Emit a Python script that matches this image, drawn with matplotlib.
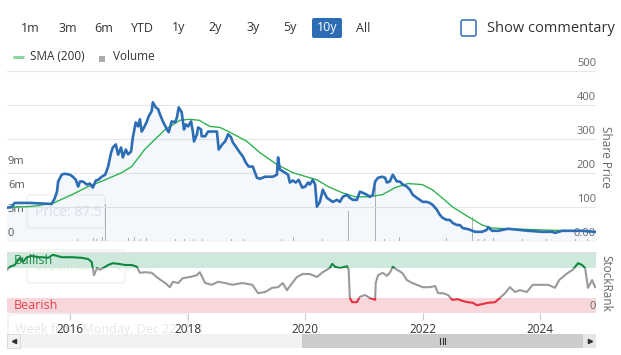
import numpy as np
import matplotlib.pyplot as plt
from matplotlib.patches import Rectangle, FancyBboxPatch
from matplotlib.transforms import offset_copy

plt.rcParams['font.family'] = ['Open Sans', 'DejaVu Sans']

# ---- data (decimal years) ----
price_t = [2014.93, 2015.01, 2015.06, 2015.32, 2015.57, 2015.69, 2015.74, 2015.78, 2015.80, 2015.86,
           2015.91, 2016.00, 2016.05, 2016.10, 2016.14, 2016.17, 2016.22, 2016.29, 2016.34, 2016.39,
           2016.44, 2016.48, 2016.54, 2016.60, 2016.65, 2016.70, 2016.73, 2016.78, 2016.82, 2016.87,
           2016.90, 2016.95, 2016.99, 2017.04, 2017.07, 2017.12, 2017.16, 2017.19, 2017.22, 2017.26,
           2017.31, 2017.34, 2017.39, 2017.41, 2017.46, 2017.50, 2017.53, 2017.58, 2017.65, 2017.68,
           2017.73, 2017.79, 2017.82, 2017.85, 2017.90, 2017.94, 2017.97, 2018.01, 2018.06, 2018.09,
           2018.11, 2018.16, 2018.18, 2018.23, 2018.24, 2018.30, 2018.35, 2018.43, 2018.50, 2018.53,
           2018.59, 2018.64, 2018.69, 2018.74, 2018.77, 2018.82, 2018.89, 2018.94, 2018.99, 2019.04,
           2019.11, 2019.18, 2019.23, 2019.32, 2019.45, 2019.52, 2019.54, 2019.57, 2019.66, 2019.71,
           2019.74, 2019.79, 2019.84, 2019.89, 2019.95, 2020.00, 2020.05, 2020.08, 2020.13, 2020.17,
           2020.20, 2020.25, 2020.30, 2020.37, 2020.42, 2020.47, 2020.54, 2020.59, 2020.64, 2020.71,
           2020.76, 2020.81, 2020.88, 2020.93, 2020.98, 2021.05, 2021.10, 2021.15, 2021.19, 2021.24,
           2021.31, 2021.36, 2021.39, 2021.44, 2021.49, 2021.56, 2021.61, 2021.66, 2021.73, 2021.78,
           2021.83, 2021.90, 2021.95, 2022.00, 2022.07, 2022.12, 2022.17, 2022.24, 2022.29, 2022.34,
           2022.41, 2022.46, 2022.51, 2022.58, 2022.63, 2022.68, 2022.77, 2022.89, 2023.01, 2023.09,
           2023.11, 2023.18, 2023.28, 2023.45, 2023.62, 2023.79, 2024.03, 2024.20, 2024.25, 2024.37,
           2024.54, 2024.71, 2024.93]
price = [98, 100, 112, 112, 110, 109, 125, 145, 175, 195,
         198, 195, 189, 180, 160, 175, 175, 166, 169, 157,
         178, 180, 189, 195, 219, 260, 275, 284, 254, 275,
         246, 269, 255, 263, 305, 349, 337, 358, 322, 334,
         352, 367, 382, 408, 393, 388, 373, 352, 328, 320,
         352, 349, 364, 393, 379, 328, 343, 337, 352, 322,
         293, 314, 334, 328, 308, 308, 322, 322, 322, 269,
         284, 293, 314, 305, 290, 278, 260, 249, 231, 219,
         219, 186, 183, 189, 189, 195, 246, 210, 201, 195,
         172, 178, 172, 180, 157, 160, 172, 166, 180, 166,
         101, 115, 151, 127, 121, 115, 121, 115, 130, 136,
         127, 121, 121, 145, 142, 136, 130, 135, 175, 186,
         189, 186, 172, 175, 195, 175, 175, 166, 160, 151,
         136, 127, 121, 115, 115, 112, 106, 92, 77, 68,
         62, 62, 53, 47, 47, 38, 35, 27, 27, 33,
         41, 30, 30, 36, 33, 30, 27, 27, 24, 30,
         30, 30, 27]

sma_t = [2014.93, 2015.37, 2015.71, 2016.03, 2016.31, 2016.60, 2016.88, 2017.05, 2017.27, 2017.50,
         2017.62, 2017.87, 2018.03, 2018.20, 2018.38, 2018.55, 2018.72, 2019.01, 2019.23, 2019.52,
         2019.79, 2020.08, 2020.20, 2020.39, 2020.63, 2020.85, 2021.07, 2021.31, 2021.53, 2021.75,
         2021.99, 2022.16, 2022.33, 2022.50, 2022.72, 2023.01, 2023.18, 2023.45, 2023.96, 2024.54,
         2024.93]
sma = [98, 102, 111, 136, 160, 180, 201, 219, 269, 308,
       328, 355, 358, 355, 337, 334, 320, 293, 260, 225,
       201, 186, 180, 160, 142, 130, 130, 136, 157, 169,
       166, 151, 127, 101, 77, 47, 38, 36, 33, 30,
       27]

vol_t = [2016.13, 2016.40, 2016.45, 2016.55, 2016.61, 2016.70, 2016.75, 2016.80, 2016.90, 2017.00,
         2017.10, 2017.20, 2017.30, 2017.45, 2017.55, 2017.65, 2017.80, 2017.95, 2018.10, 2018.25,
         2018.45, 2018.75, 2018.95, 2019.20, 2019.40, 2019.60, 2019.80, 2019.95, 2020.30, 2020.54,
         2020.74, 2020.76, 2020.95, 2021.05, 2021.20, 2021.35, 2021.60, 2021.82, 2021.92, 2022.24,
         2022.29, 2022.40, 2022.55, 2022.70, 2022.85, 2022.95, 2023.05, 2023.20, 2023.40, 2023.70,
         2024.10, 2024.25, 2024.40, 2024.60, 2024.80]
vol_m = [0.2, 0.4, 0.2, 0.5, 4.6, 0.3, 0.6, 0.3, 0.4, 0.4,
         0.5, 0.3, 0.4, 0.6, 0.3, 0.4, 0.3, 0.3, 0.3, 0.2,
         0.2, 0.3, 0.2, 1.9, 0.4, 0.3, 0.5, 0.3, 0.3, 3.5,
         3.7, 2.2, 0.2, 0.4, 6.7, 0.3, 0.5, 1.0, 1.0, 1.7,
         1.3, 0.4, 0.4, 0.6, 3.0, 0.3, 0.2, 0.4, 0.2, 0.3,
         0.2, 3.2, 0.3, 0.2, 0.3]

rank_t = [2014.93, 2014.98, 2015.06, 2015.15, 2015.20, 2015.27, 2015.35, 2015.46, 2015.52, 2015.63,
          2015.71, 2015.86, 2016.03, 2016.20, 2016.31, 2016.37, 2016.41, 2016.46, 2016.51, 2016.60,
          2016.65, 2016.73, 2016.82, 2016.94, 2017.05, 2017.14, 2017.19, 2017.28, 2017.39, 2017.50,
          2017.62, 2017.70, 2017.75, 2017.84, 2017.92, 2018.04, 2018.16, 2018.21, 2018.30, 2018.41,
          2018.52, 2018.64, 2018.76, 2018.93, 2019.10, 2019.20, 2019.32, 2019.44, 2019.54, 2019.62,
          2019.69, 2019.78, 2019.86, 2019.96, 2020.08, 2020.20, 2020.30, 2020.42, 2020.46, 2020.51,
          2020.59, 2020.68, 2020.71, 2020.74, 2020.76, 2020.80, 2020.88, 2020.93, 2021.02, 2021.10,
          2021.19, 2021.20, 2021.24, 2021.32, 2021.39, 2021.44, 2021.49, 2021.56, 2021.65, 2021.73,
          2021.82, 2021.90, 2022.00, 2022.12, 2022.21, 2022.26, 2022.34, 2022.43, 2022.50, 2022.60,
          2022.68, 2022.77, 2022.85, 2022.92, 2023.02, 2023.11, 2023.23, 2023.31, 2023.40, 2023.48,
          2023.57, 2023.65, 2023.77, 2023.87, 2023.99, 2024.13, 2024.25, 2024.32, 2024.38, 2024.47,
          2024.55, 2024.64, 2024.71, 2024.76, 2024.81, 2024.88, 2024.93]
rank = [72, 77, 80, 92, 85, 93, 95, 93, 93, 92,
        97, 93, 93, 92, 90, 85, 63, 75, 72, 77,
        80, 83, 82, 80, 80, 77, 67, 68, 67, 58,
        50, 43, 52, 50, 58, 60, 63, 68, 50, 47,
        52, 50, 47, 50, 47, 33, 35, 42, 43, 50,
        38, 50, 60, 65, 65, 60, 68, 75, 82, 77,
        75, 77, 78, 72, 25, 18, 18, 27, 30, 25,
        22, 50, 63, 67, 62, 67, 77, 72, 67, 55,
        50, 47, 43, 43, 45, 33, 33, 30, 22, 23,
        20, 18, 17, 13, 15, 17, 18, 25, 33, 43,
        35, 38, 35, 47, 47, 47, 42, 55, 60, 67,
        72, 83, 80, 75, 42, 55, 43]

years = [2016, 2018, 2020, 2022, 2024]
price_ticks = [100, 200, 300, 400, 500]
price_labels = ['100', '200', '300', '400', '500']
vol_ticks = [0, 3, 6, 9]
vol_labels = ['0', '3m', '6m', '9m']
buttons = ['1m', '3m', '6m', 'YTD', '1y', '2y', '3y', '5y', '10y', 'All']
button_x = [30, 68, 104, 142, 179, 215, 253, 290, 327, 363]

X0, X1 = 2014.93, 2024.946
W, H = 621, 355
BLUE = '#2c6db5'
LABEL = '#666666'

fig = plt.figure(figsize=(W / 100, H / 100), dpi=100)


def px_axes(x0, y0, x1, y1, z):
    a = fig.add_axes([x0 / W, 1 - y1 / H, (x1 - x0) / W, (y1 - y0) / H])
    a.set_zorder(z)
    return a


# chrome layer (buttons, scrollbar, ghost tooltips)
ui = px_axes(0, 0, W, H, 0)
ui.set_xlim(0, W)
ui.set_ylim(H, 0)
ui.axis('off')

for name, bx in zip(buttons, button_x):
    col = '#333333'
    if name == '10y':
        ui.add_patch(FancyBboxPatch((312, 18), 30, 20, boxstyle='round,pad=0,rounding_size=2',
                                    fc=BLUE, ec='none'))
        col = 'white'
    ui.text(bx, 28, name, ha='center', va='center', fontsize=9, color=col)

ui.add_patch(FancyBboxPatch((461, 20), 15, 16, boxstyle='round,pad=0,rounding_size=2',
                            fc='white', ec=BLUE, lw=1.1))
ui.text(487, 28, 'Show commentary', ha='left', va='center', fontsize=10.5, color='#333333')

ui.plot([13, 24], [57, 57], color='#86d49e', lw=2.2, solid_capstyle='butt')
ui.text(30, 57, 'SMA (200)', ha='left', va='center', fontsize=8.5, color='#333333')
ui.add_patch(Rectangle((99, 56), 6, 6, fc='#aaaaaa', ec='none'))
ui.text(113, 57, 'Volume', ha='left', va='center', fontsize=8.5, color='#333333')

# ghost tooltips
ui.add_patch(FancyBboxPatch((27, 195), 78, 33, boxstyle='round,pad=0,rounding_size=3',
                            fc='none', ec='#eeeeee', lw=0.8))
ui.text(35, 212, 'Price: 87.5', ha='left', va='center', fontsize=10, color='#e4e7eb')
ui.add_patch(FancyBboxPatch((27, 250), 98, 33, boxstyle='round,pad=0,rounding_size=3',
                            fc='none', ec='#e6f1ea', lw=0.8))
ui.text(35, 267, 'StockRank™ 70', ha='left', va='center', fontsize=10, color='#e2ebe5')
ui.add_patch(FancyBboxPatch((8, 314), 180, 33, boxstyle='round,pad=0,rounding_size=3',
                            fc='none', ec='#eaeaea', lw=0.8))
ui.text(15, 330, 'Week from Monday, Dec 22, 201', ha='left', va='center', fontsize=9,
        color='#e6e6e6')

# scrollbar
ui.add_patch(Rectangle((7, 334), 589, 14, fc='#f2f2f2', ec='none'))
ui.add_patch(Rectangle((7, 334), 13, 14, fc='#f2f2f2', ec='#d8d8d8', lw=0.6))
ui.add_patch(Rectangle((302, 334), 281, 14, fc='#cccccc', ec='none'))
ui.add_patch(Rectangle((583, 334), 13, 14, fc='#e6e6e6', ec='none'))
ui.plot([13.5], [341], marker='<', ms=3, color='#333333')
ui.plot([589.5], [341], marker='>', ms=3, color='#333333')
for gx in (440, 442.5, 445):
    ui.plot([gx, gx], [338, 344], color='#333333', lw=0.8)

ui.text(606, 157, 'Share Price', rotation=270, ha='center', va='center', fontsize=8.5, color=LABEL)
ui.text(606, 283, 'StockRank', rotation=270, ha='center', va='center', fontsize=8.5, color=LABEL)

# ---- price panel ----
ax = px_axes(7, 71, 596, 241, 3)
axv = ax.twinx()
axv.set_zorder(2)
ax.patch.set_visible(False)
axv.patch.set_visible(False)

axv.bar(vol_t, vol_m, width=0.01, color='#b4b4b4', lw=0)
axv.set_ylim(0, 21.25)

for v in price_ticks:
    ax.axhline(v, color='#e6e6e6', lw=0.8, zorder=0)
ax.axhline(0, color='#d8d8d8', lw=0.9, zorder=0)
ax.fill_between(price_t, price, 0, color=BLUE, alpha=0.05, lw=0)
ax.plot(sma_t, sma, color='#2fb34f', lw=1.0, zorder=3)
ax.plot(price_t, price, color=BLUE, lw=1.9, zorder=4)
ax.set_xlim(X0, X1)
ax.set_ylim(0, 500)

tr = offset_copy(ax.get_yaxis_transform(), fig=fig, x=0, y=2, units='dots')
for v, lab in zip(price_ticks, price_labels):
    ax.text(1.0, v, lab, transform=tr, ha='right', va='bottom', fontsize=8, color=LABEL)
ax.text(1.0, 0, '0.00', transform=tr, ha='right', va='bottom', fontsize=8, color=LABEL)

trv = offset_copy(axv.get_yaxis_transform(), fig=fig, x=1, y=2, units='dots')
for v, lab in zip(vol_ticks, vol_labels):
    axv.text(0.0, v, lab, transform=trv, ha='left', va='bottom', fontsize=8, color='#555555')

for a in (ax, axv):
    a.set_xticks([])
    a.set_yticks([])
    for s in a.spines.values():
        s.set_visible(False)

# ---- StockRank panel ----
ax2 = px_axes(7, 253, 596, 313, 3)
ax2.patch.set_visible(False)
ax2.axhspan(75, 100, color='#cfe8dc', lw=0, zorder=0)
ax2.axhspan(0, 25, color='#f8d7da', lw=0, zorder=0)
ax2.axhline(101.5, color='#e2e2e2', lw=0.8, clip_on=False)

zones = [(0, 25, '#e8303e'), (25, 50, '#9a9a9a'), (75, 25, '#10893e')]
for y0, h, col in zones:
    ln, = ax2.plot(rank_t, rank, color=col, lw=1.5, zorder=3)
    ln.set_clip_path(Rectangle((X0, y0), X1 - X0, h, transform=ax2.transData))

ax2.set_xlim(X0, X1)
ax2.set_ylim(0, 100)
ax2.text(0.012, 87, 'Bullish', transform=ax2.get_yaxis_transform(), ha='left', va='center',
         fontsize=9, color='#1d8a4a')
ax2.text(0.012, 12, 'Bearish', transform=ax2.get_yaxis_transform(), ha='left', va='center',
         fontsize=9, color='#e8404e')
tr2 = offset_copy(ax2.get_yaxis_transform(), fig=fig, x=0, y=1, units='dots')
ax2.text(1.0, 0, '0', transform=tr2, ha='right', va='bottom', fontsize=8, color=LABEL)

ax2.set_yticks([])
ax2.set_xticks(years)
ax2.set_xticklabels([str(y) for y in years])
ax2.tick_params(axis='x', length=5, width=0.8, color='#cccccc', labelcolor='#333333',
                labelsize=8.5, pad=2)
for s in ax2.spines.values():
    s.set_visible(False)

fig.savefig('out.png', dpi=100)
